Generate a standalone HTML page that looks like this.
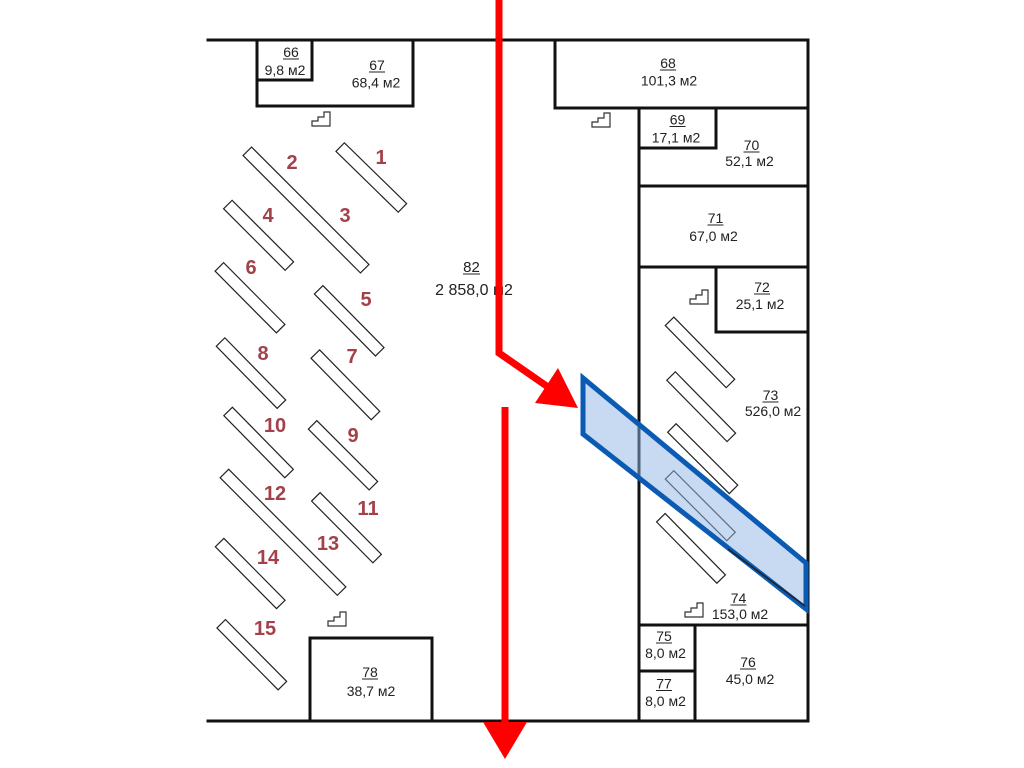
<!DOCTYPE html>
<html><head><meta charset="utf-8"><style>
html,body{margin:0;padding:0;background:#fff;width:1024px;height:768px;overflow:hidden}
svg{display:block}
.t{font-family:"Liberation Sans",sans-serif;font-size:14px;fill:#222;text-anchor:middle}
.n{font-family:"Liberation Sans",sans-serif;font-size:20px;font-weight:bold;fill:#a3414b;text-anchor:middle}
.u{stroke:#222;stroke-width:1}
.r{fill:none;stroke:#222;stroke-width:1.2}
.s{fill:none;stroke:#333;stroke-width:1.2}
</style></head><body>
<svg width="1024" height="768" viewBox="0 0 1024 768" xmlns="http://www.w3.org/2000/svg">
<rect width="1024" height="768" fill="#fff"/>
<!-- walls -->
<g stroke="#111" stroke-width="3" fill="none" stroke-linecap="square">
<line x1="208" y1="40" x2="808" y2="40"/>
<line x1="208" y1="721" x2="808" y2="721"/>
<line x1="808" y1="40" x2="808" y2="721"/>
<line x1="257" y1="40" x2="257" y2="106"/>
<line x1="312" y1="40" x2="312" y2="80"/>
<line x1="257" y1="80" x2="312" y2="80"/>
<line x1="413" y1="40" x2="413" y2="106"/>
<line x1="257" y1="106" x2="413" y2="106"/>
<line x1="555" y1="40" x2="555" y2="108"/>
<line x1="555" y1="108" x2="808" y2="108"/>
<line x1="639" y1="108" x2="639" y2="721"/>
<line x1="716" y1="108" x2="716" y2="148"/>
<line x1="639" y1="148" x2="716" y2="148"/>
<line x1="639" y1="186" x2="808" y2="186"/>
<line x1="639" y1="267" x2="808" y2="267"/>
<line x1="716" y1="267" x2="716" y2="332"/>
<line x1="716" y1="332" x2="808" y2="332"/>
<line x1="639" y1="625" x2="808" y2="625"/>
<line x1="639" y1="671" x2="695" y2="671"/>
<line x1="695" y1="625" x2="695" y2="721"/>
<line x1="310" y1="638" x2="310" y2="721"/>
<line x1="432" y1="638" x2="432" y2="721"/>
<line x1="310" y1="638" x2="432" y2="638"/>
</g>
<!-- stairs -->
<g class="s">
<path d="M312,126 L330,126 L330,112 L324,112 L324,117 L318,117 L318,121 L312,121 Z"/>
<path d="M592,127 L610,127 L610,113 L604,113 L604,118 L598,118 L598,122 L592,122 Z"/>
<path d="M690,304 L708,304 L708,290 L702,290 L702,295 L696,295 L696,299 L690,299 Z"/>
<path d="M685,617 L703,617 L703,603 L697,603 L697,608 L691,608 L691,612 L685,612 Z"/>
<path d="M328,626 L346,626 L346,612 L340,612 L340,617 L334,617 L334,621 L328,621 Z"/>
</g>
<!-- racks -->
<g class="r">
<rect x="-83" y="-6" width="166" height="12" transform="translate(306,210) rotate(45)"/>
<rect x="-43.5" y="-6" width="87" height="12" transform="translate(371.3,177.5) rotate(44.3)"/>
<rect x="-43.5" y="-6" width="87" height="12" transform="translate(258.6,235.3) rotate(45)"/>
<rect x="-43.5" y="-6" width="87" height="12" transform="translate(250,297.8) rotate(45.2)"/>
<rect x="-43.5" y="-6" width="87" height="12" transform="translate(349.2,320.8) rotate(45.4)"/>
<rect x="-43.5" y="-6" width="87" height="12" transform="translate(251,373.1) rotate(45.6)"/>
<rect x="-43" y="-6" width="86" height="12" transform="translate(345.4,384.8) rotate(45.6)"/>
<rect x="-43.5" y="-6" width="87" height="12" transform="translate(258.6,442.5) rotate(45.5)"/>
<rect x="-43" y="-6" width="86" height="12" transform="translate(343,455.3) rotate(45)"/>
<rect x="-83" y="-6" width="166" height="12" transform="translate(283,532.3) rotate(45.1)"/>
<rect x="-43.5" y="-6" width="87" height="12" transform="translate(346.5,527.7) rotate(45.2)"/>
<rect x="-43.5" y="-6" width="87" height="12" transform="translate(250.2,573.5) rotate(45.3)"/>
<rect x="-43.5" y="-6" width="87" height="12" transform="translate(251.8,654.7) rotate(45.3)"/>
<rect x="-43.5" y="-6" width="87" height="12" transform="translate(700,352.4) rotate(45.6)"/>
<rect x="-43" y="-6" width="86" height="12" transform="translate(701.2,406.7) rotate(45.5)"/>
<rect x="-43.5" y="-6" width="87" height="12" transform="translate(702.7,458.7) rotate(44.9)"/>
<rect x="-43.5" y="-6" width="87" height="12" transform="translate(700.3,505.7) rotate(45)"/>
<rect x="-43" y="-6" width="86" height="12" transform="translate(691,548.4) rotate(45.5)"/>
</g>
<!-- rack numbers -->
<g class="n">
<text x="381" y="164">1</text>
<text x="292" y="169">2</text>
<text x="345" y="222">3</text>
<text x="268" y="222">4</text>
<text x="366" y="306">5</text>
<text x="251" y="274">6</text>
<text x="352" y="363">7</text>
<text x="263" y="360">8</text>
<text x="353" y="442">9</text>
<text x="275" y="432">10</text>
<text x="368" y="515">11</text>
<text x="275" y="500">12</text>
<text x="328" y="550">13</text>
<text x="268" y="564">14</text>
<text x="265" y="635">15</text>
</g>
<!-- room labels -->
<g class="t">
<text x="291" y="57">66</text><text x="285" y="75">9,8 м2</text>
<text x="377" y="70">67</text><text x="376" y="87.5">68,4 м2</text>
<text x="668" y="68">68</text><text x="669" y="85.5">101,3 м2</text>
<text x="677.5" y="124.5">69</text><text x="676" y="142.5">17,1 м2</text>
<text x="751.5" y="150">70</text><text x="749.5" y="166">52,1 м2</text>
<text x="715.5" y="223">71</text><text x="713.5" y="241">67,0 м2</text>
<text x="762" y="292">72</text><text x="760" y="309">25,1 м2</text>
<text x="770.5" y="400">73</text><text x="773" y="416">526,0 м2</text>
<text x="738.5" y="603">74</text><text x="740" y="619">153,0 м2</text>
<text x="664" y="641">75</text><text x="665.5" y="658">8,0 м2</text>
<text x="664" y="688.5">77</text><text x="665.5" y="706">8,0 м2</text>
<text x="748" y="667">76</text><text x="750" y="684">45,0 м2</text>
<text x="370" y="677">78</text><text x="371" y="696">38,7 м2</text>
<text x="471.5" y="272" style="font-size:15px">82</text><text x="474" y="295" style="font-size:16px">2 858,0 м2</text>
</g>
<g class="u">
<line x1="283" y1="59" x2="299" y2="59"/>
<line x1="369" y1="72" x2="385" y2="72"/>
<line x1="660" y1="70" x2="676" y2="70"/>
<line x1="669.5" y1="126.5" x2="685.5" y2="126.5"/>
<line x1="743.5" y1="152" x2="759.5" y2="152"/>
<line x1="707.5" y1="225" x2="723.5" y2="225"/>
<line x1="754" y1="294" x2="770" y2="294"/>
<line x1="762.5" y1="402" x2="778.5" y2="402"/>
<line x1="730.5" y1="605" x2="746.5" y2="605"/>
<line x1="656" y1="643" x2="672" y2="643"/>
<line x1="656" y1="690.5" x2="672" y2="690.5"/>
<line x1="740" y1="669" x2="756" y2="669"/>
<line x1="362" y1="679" x2="378" y2="679"/>
<line x1="463" y1="274" x2="480" y2="274"/>
</g>
<!-- blue band -->
<polygon points="583,378 583,434 806,609 806,563" fill="#8fb6e3" fill-opacity="0.5" stroke="#0b5bb5" stroke-width="5" stroke-linejoin="miter"/>
<line x1="728" y1="549" x2="805" y2="606" stroke="#222" stroke-width="1.5"/>
<!-- red arrows -->
<g fill="none" stroke="#ff0000" stroke-width="7">
<polyline points="499,0 499,353 548,387"/>
<line x1="505" y1="407" x2="505" y2="724"/>
</g>
<polygon points="535,403 558,368 578,408" fill="#ff0000"/>
<polygon points="483,722 527,722 505,759" fill="#ff0000"/>
</svg>
</body></html>
